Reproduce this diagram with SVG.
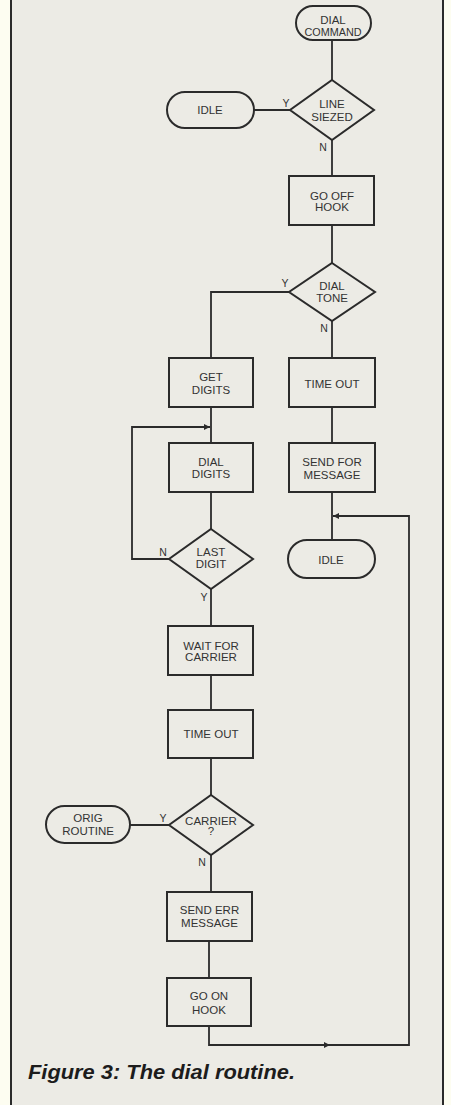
<svg xmlns="http://www.w3.org/2000/svg" width="451" height="1105" viewBox="0 0 451 1105">
<style>
.shape{fill:none;stroke:#2b2b2b;stroke-width:2}
.conn{fill:none;stroke:#2b2b2b;stroke-width:1.8}
.t{font-family:"Liberation Sans",Arial,sans-serif;font-size:11.5px;fill:#333;text-anchor:middle}
.yn{font-family:"Liberation Sans",Arial,sans-serif;font-size:10.5px;fill:#333;text-anchor:middle}
.cap{font-family:"Liberation Sans",Arial,sans-serif;font-size:20px;font-weight:bold;font-style:italic;fill:#1c1c1c}
</style>
<defs>
<marker id="arr" viewBox="0 0 10 10" refX="10" refY="5" markerWidth="8" markerHeight="6" markerUnits="userSpaceOnUse" orient="auto">
<path d="M0,0 L10,5 L0,10 Z" fill="#2b2b2b"/>
</marker>
</defs>
<rect x="0" y="0" width="451" height="1105" fill="#fdfdf1"/>
<rect x="11" y="0" width="432" height="1105" fill="#ecebe5"/>
<line x1="11" y1="0" x2="11" y2="1105" stroke="#2b2b2b" stroke-width="2"/>
<line x1="443" y1="0" x2="443" y2="1105" stroke="#2b2b2b" stroke-width="2"/>

<g id="connectors">
<path class="conn" d="M332,40 V80"/>
<path class="conn" d="M290,110 H254"/>
<path class="conn" d="M332,140 V176"/>
<path class="conn" d="M332,225 V263"/>
<path class="conn" d="M289,292 H211 V358"/>
<path class="conn" d="M332,321 V358"/>
<path class="conn" d="M332,407 V443"/>
<path class="conn" d="M332,492 V540"/>
<path class="conn" d="M211,407 V443"/>
<path class="conn" d="M211,492 V529"/>
<path class="conn" d="M169,559 H132 V427 H210" marker-end="url(#arr)"/>
<path class="conn" d="M211,589 V626"/>
<path class="conn" d="M211,675 V710"/>
<path class="conn" d="M211,758 V795"/>
<path class="conn" d="M169,825 H130"/>
<path class="conn" d="M211,855 V892"/>
<path class="conn" d="M209,941 V978"/>
<path class="conn" d="M209,1026 V1045 H330" marker-end="url(#arr)"/>
<path class="conn" d="M328,1045 H409 V516 H333" marker-end="url(#arr)"/>
<text class="yn" x="286" y="107">Y</text>
<text class="yn" x="323" y="151">N</text>
<text class="yn" x="285" y="287">Y</text>
<text class="yn" x="324" y="332">N</text>
<text class="yn" x="163" y="556">N</text>
<text class="yn" x="204" y="601">Y</text>
<text class="yn" x="163" y="822">Y</text>
<text class="yn" x="202" y="866">N</text>
</g>

<g id="dial-command">
<rect class="shape" x="296" y="6" width="75" height="34" rx="17"/>
<text class="t" x="333" y="24">DIAL</text>
<text class="t" x="333" y="36" textLength="57" lengthAdjust="spacingAndGlyphs">COMMAND</text>
</g>
<g id="line-siezed">
<polygon class="shape" points="332,80 374,110 332,140 290,110"/>
<text class="t" x="332" y="107.5">LINE</text>
<text class="t" x="332" y="121">SIEZED</text>
</g>
<g id="idle-1">
<rect class="shape" x="167" y="92" width="87" height="36" rx="18"/>
<text class="t" x="210" y="114">IDLE</text>
</g>
<g id="go-off-hook">
<rect class="shape" x="289" y="176" width="85" height="49"/>
<text class="t" x="332" y="199.5">GO OFF</text>
<text class="t" x="332" y="210.5">HOOK</text>
</g>
<g id="dial-tone">
<polygon class="shape" points="332,263 375,292 332,321 289,292"/>
<text class="t" x="332" y="290">DIAL</text>
<text class="t" x="332" y="302">TONE</text>
</g>
<g id="get-digits">
<rect class="shape" x="169" y="358" width="84" height="49"/>
<text class="t" x="211" y="381">GET</text>
<text class="t" x="211" y="393.5">DIGITS</text>
</g>
<g id="time-out-1">
<rect class="shape" x="289" y="358" width="86" height="49"/>
<text class="t" x="332" y="387.5">TIME OUT</text>
</g>
<g id="dial-digits">
<rect class="shape" x="169" y="443" width="84" height="49"/>
<text class="t" x="211" y="466">DIAL</text>
<text class="t" x="211" y="477.5">DIGITS</text>
</g>
<g id="send-for-message">
<rect class="shape" x="289" y="443" width="86" height="49"/>
<text class="t" x="332" y="466">SEND FOR</text>
<text class="t" x="332" y="479">MESSAGE</text>
</g>
<g id="idle-2">
<rect class="shape" x="288" y="540" width="87" height="38" rx="19"/>
<text class="t" x="331" y="563.5">IDLE</text>
</g>
<g id="last-digit">
<polygon class="shape" points="211,529 253,559 211,589 169,559"/>
<text class="t" x="211" y="556">LAST</text>
<text class="t" x="211" y="568">DIGIT</text>
</g>
<g id="wait-for-carrier">
<rect class="shape" x="168" y="626" width="85" height="49"/>
<text class="t" x="211" y="650">WAIT FOR</text>
<text class="t" x="211" y="661">CARRIER</text>
</g>
<g id="time-out-2">
<rect class="shape" x="168" y="710" width="85" height="48"/>
<text class="t" x="211" y="738">TIME OUT</text>
</g>
<g id="carrier">
<polygon class="shape" points="211,795 253,825 211,855 169,825"/>
<text class="t" x="211" y="825">CARRIER</text>
<text class="t" x="211" y="835">?</text>
</g>
<g id="orig-routine">
<rect class="shape" x="46" y="806" width="84" height="37" rx="18.5"/>
<text class="t" x="88" y="822">ORIG</text>
<text class="t" x="88" y="835">ROUTINE</text>
</g>
<g id="send-err-message">
<rect class="shape" x="167" y="892" width="85" height="49"/>
<text class="t" x="209.5" y="914">SEND ERR</text>
<text class="t" x="209.5" y="926.5">MESSAGE</text>
</g>
<g id="go-on-hook">
<rect class="shape" x="167" y="978" width="84" height="48"/>
<text class="t" x="209" y="1000">GO ON</text>
<text class="t" x="209" y="1014">HOOK</text>
</g>

<text class="cap" x="28" y="1079" textLength="267" lengthAdjust="spacingAndGlyphs">Figure 3: The dial routine.</text>
</svg>
